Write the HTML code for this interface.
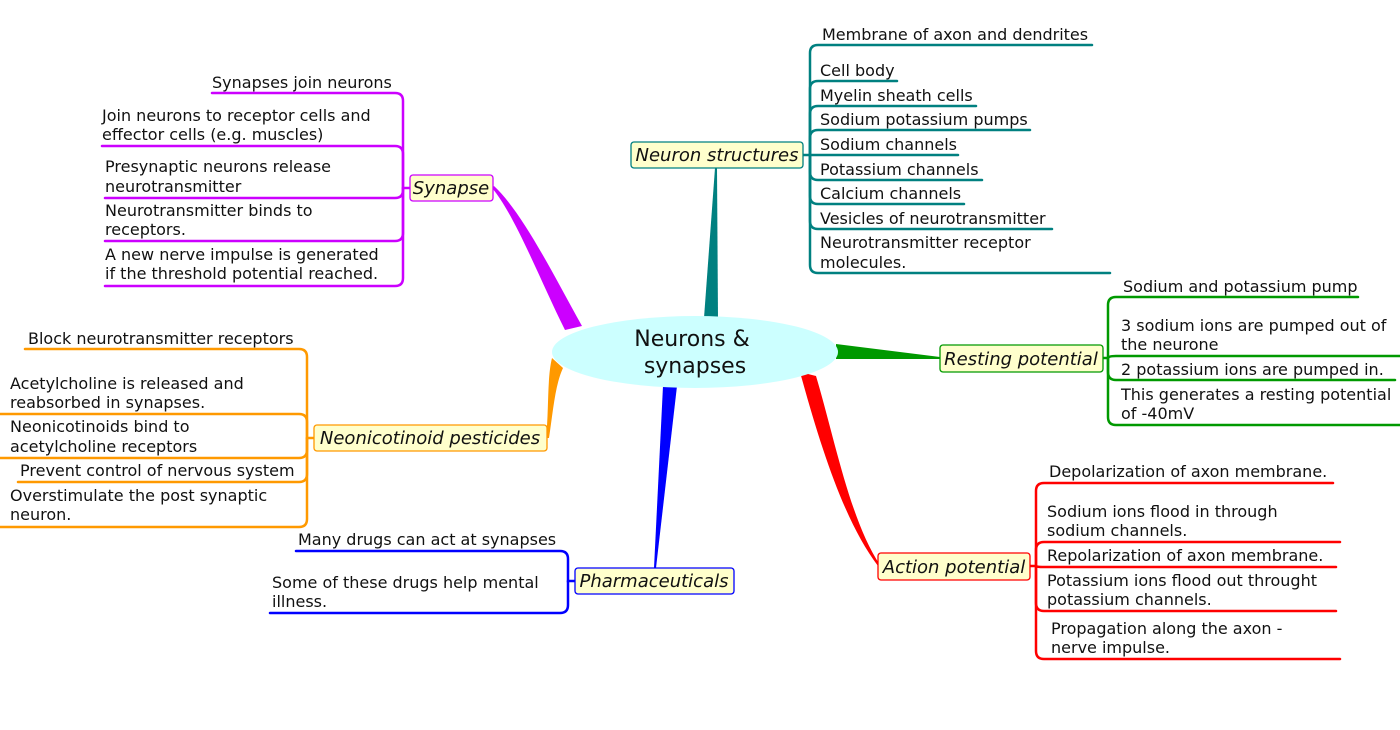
<!DOCTYPE html>
<html><head><meta charset="utf-8"><style>
html,body{margin:0;padding:0;background:#fff;}
svg{display:block;}
text{font-family:"DejaVu Sans","Liberation Sans",sans-serif;fill:#111;font-size:16px;}
.n{font-size:18px;font-style:italic;text-anchor:middle;}
path.c{fill:none;stroke-width:2.5;stroke-linecap:round;}
</style></head><body>
<svg width="1400" height="730" viewBox="0 0 1400 730">
<polygon points="704,318 718,318 717,168 715,168" fill="#008080"/>
<path d="M565 330 C540 280 515 215 492 188 L494 186 C522 212 552 272 582 326 Z" fill="#cc00ff"/>
<path d="M552 358 L563 368 C555 385 553 412 549 438 L546 438 C549 410 547 378 552 358 Z" fill="#ff9900"/>
<polygon points="663,386 677,386 656,568 654,568" fill="#0000ff"/>
<polygon points="836,344 836,359 940,359 940,357" fill="#009900"/>
<path d="M800 372 L816 376 C835 440 850 520 880 565 L878 566 C845 522 822 452 800 372 Z" fill="#ff0000"/>

<ellipse cx="695" cy="352" rx="143" ry="36" fill="#ccffff"/>
<text x="692" y="346" text-anchor="middle" style="font-size:22px">Neurons &amp;</text>
<text x="695" y="373" text-anchor="middle" style="font-size:22px">synapses</text>

<g stroke="#008080">
<path class="c" d="M803 155 L958 155"/>
<path class="c" d="M810 155 L810 53 Q810 45 818 45 L1092 45"/>
<path class="c" d="M810 155 L810 89 Q810 81 818 81 L897 81"/>
<path class="c" d="M810 155 L810 114 Q810 106 818 106 L976 106"/>
<path class="c" d="M810 155 L810 138 Q810 130 818 130 L1030 130"/>
<path class="c" d="M810 155 L810 172 Q810 180 818 180 L982 180"/>
<path class="c" d="M810 155 L810 196 Q810 204 818 204 L964 204"/>
<path class="c" d="M810 155 L810 221 Q810 229 818 229 L1052 229"/>
<path class="c" d="M810 155 L810 265 Q810 273 818 273 L1110 273"/>
</g>
<rect x="631" y="142" width="172" height="26" rx="3" fill="#ffffcc" stroke="#008080" stroke-width="1.3"/>
<text class="n" x="717" y="161">Neuron structures</text>
<text x="822" y="40">Membrane of axon and dendrites</text>
<text x="820" y="76">Cell body</text>
<text x="820" y="101">Myelin sheath cells</text>
<text x="820" y="125">Sodium potassium pumps</text>
<text x="820" y="150">Sodium channels</text>
<text x="820" y="175">Potassium channels</text>
<text x="820" y="199">Calcium channels</text>
<text x="820" y="224">Vesicles of neurotransmitter</text>
<text x="820" y="248">Neurotransmitter receptor</text>
<text x="820" y="268">molecules.</text>

<g stroke="#009900">
<path class="c" d="M1103 358 L1108 358 L1108 305 Q1108 297 1116 297 L1358 297"/>
<path class="c" d="M1108 358 Q1108 356 1116 356 L1400 356"/>
<path class="c" d="M1108 358 L1108 372 Q1108 380 1116 380 L1395 380"/>
<path class="c" d="M1108 358 L1108 417 Q1108 425 1116 425 L1400 425"/>
</g>
<rect x="940" y="345" width="163" height="27" rx="3" fill="#ffffcc" stroke="#009900" stroke-width="1.3"/>
<text class="n" x="1021" y="365">Resting potential</text>
<text x="1123" y="292">Sodium and potassium pump</text>
<text x="1121" y="331">3 sodium ions are pumped out of</text>
<text x="1121" y="350">the neurone</text>
<text x="1121" y="375">2 potassium ions are pumped in.</text>
<text x="1121" y="400">This generates a resting potential</text>
<text x="1121" y="419">of -40mV</text>

<g stroke="#ff0000">
<path class="c" d="M1030 566 L1036 566 L1036 491 Q1036 483 1044 483 L1333 483"/>
<path class="c" d="M1036 566 L1036 550 Q1036 542 1044 542 L1340 542"/>
<path class="c" d="M1036 566 Q1036 567 1044 567 L1336 567"/>
<path class="c" d="M1036 566 L1036 603 Q1036 611 1044 611 L1336 611"/>
<path class="c" d="M1036 566 L1036 651 Q1036 659 1044 659 L1340 659"/>
</g>
<rect x="878" y="553" width="152" height="27" rx="3" fill="#ffffcc" stroke="#ff0000" stroke-width="1.3"/>
<text class="n" x="954" y="573">Action potential</text>
<text x="1049" y="477">Depolarization of axon membrane.</text>
<text x="1047" y="517">Sodium ions flood in through</text>
<text x="1047" y="536">sodium channels.</text>
<text x="1047" y="561">Repolarization of axon membrane.</text>
<text x="1047" y="586">Potassium ions flood out throught</text>
<text x="1047" y="605">potassium channels.</text>
<text x="1051" y="634">Propagation along the axon -</text>
<text x="1051" y="653">nerve impulse.</text>

<g stroke="#cc00ff">
<path class="c" d="M410 188 L403 188 L403 101 Q403 93 395 93 L212 93"/>
<path class="c" d="M403 188 L403 154 Q403 146 395 146 L102 146"/>
<path class="c" d="M403 188 L403 190 Q403 198 395 198 L105 198"/>
<path class="c" d="M403 188 L403 233 Q403 241 395 241 L105 241"/>
<path class="c" d="M403 188 L403 278 Q403 286 395 286 L105 286"/>
</g>
<rect x="410" y="175" width="83" height="26" rx="3" fill="#ffffcc" stroke="#cc00ff" stroke-width="1.3"/>
<text class="n" x="451" y="194">Synapse</text>
<text x="212" y="88">Synapses join neurons</text>
<text x="102" y="121">Join neurons to receptor cells and</text>
<text x="102" y="140">effector cells (e.g. muscles)</text>
<text x="105" y="172">Presynaptic neurons release</text>
<text x="105" y="192">neurotransmitter</text>
<text x="105" y="216">Neurotransmitter binds to</text>
<text x="105" y="235">receptors.</text>
<text x="105" y="260">A new nerve impulse is generated</text>
<text x="105" y="279">if the threshold potential reached.</text>

<g stroke="#ff9900">
<path class="c" d="M314 438 L307 438 L307 357 Q307 349 299 349 L25 349"/>
<path class="c" d="M307 438 L307 422 Q307 414 299 414 L0 414"/>
<path class="c" d="M307 438 L307 450 Q307 458 299 458 L0 458"/>
<path class="c" d="M307 438 L307 474 Q307 482 299 482 L18 482"/>
<path class="c" d="M307 438 L307 519 Q307 527 299 527 L0 527"/>
</g>
<rect x="314" y="425" width="233" height="26" rx="3" fill="#ffffcc" stroke="#ff9900" stroke-width="1.3"/>
<text class="n" x="430" y="444">Neonicotinoid pesticides</text>
<text x="28" y="344">Block neurotransmitter receptors</text>
<text x="10" y="389">Acetylcholine is released and</text>
<text x="10" y="408">reabsorbed in synapses.</text>
<text x="10" y="432">Neonicotinoids bind to</text>
<text x="10" y="452">acetylcholine receptors</text>
<text x="20" y="476">Prevent control of nervous system</text>
<text x="10" y="501">Overstimulate the post synaptic</text>
<text x="10" y="520">neuron.</text>

<g stroke="#0000ff">
<path class="c" d="M575 581 L568 581 L568 559 Q568 551 560 551 L296 551"/>
<path class="c" d="M568 581 L568 605 Q568 613 560 613 L270 613"/>
</g>
<rect x="575" y="568" width="159" height="26" rx="3" fill="#ffffcc" stroke="#0000ff" stroke-width="1.3"/>
<text class="n" x="654" y="587">Pharmaceuticals</text>
<text x="298" y="545">Many drugs can act at synapses</text>
<text x="272" y="588">Some of these drugs help mental</text>
<text x="272" y="607">illness.</text>
</svg>
</body></html>
